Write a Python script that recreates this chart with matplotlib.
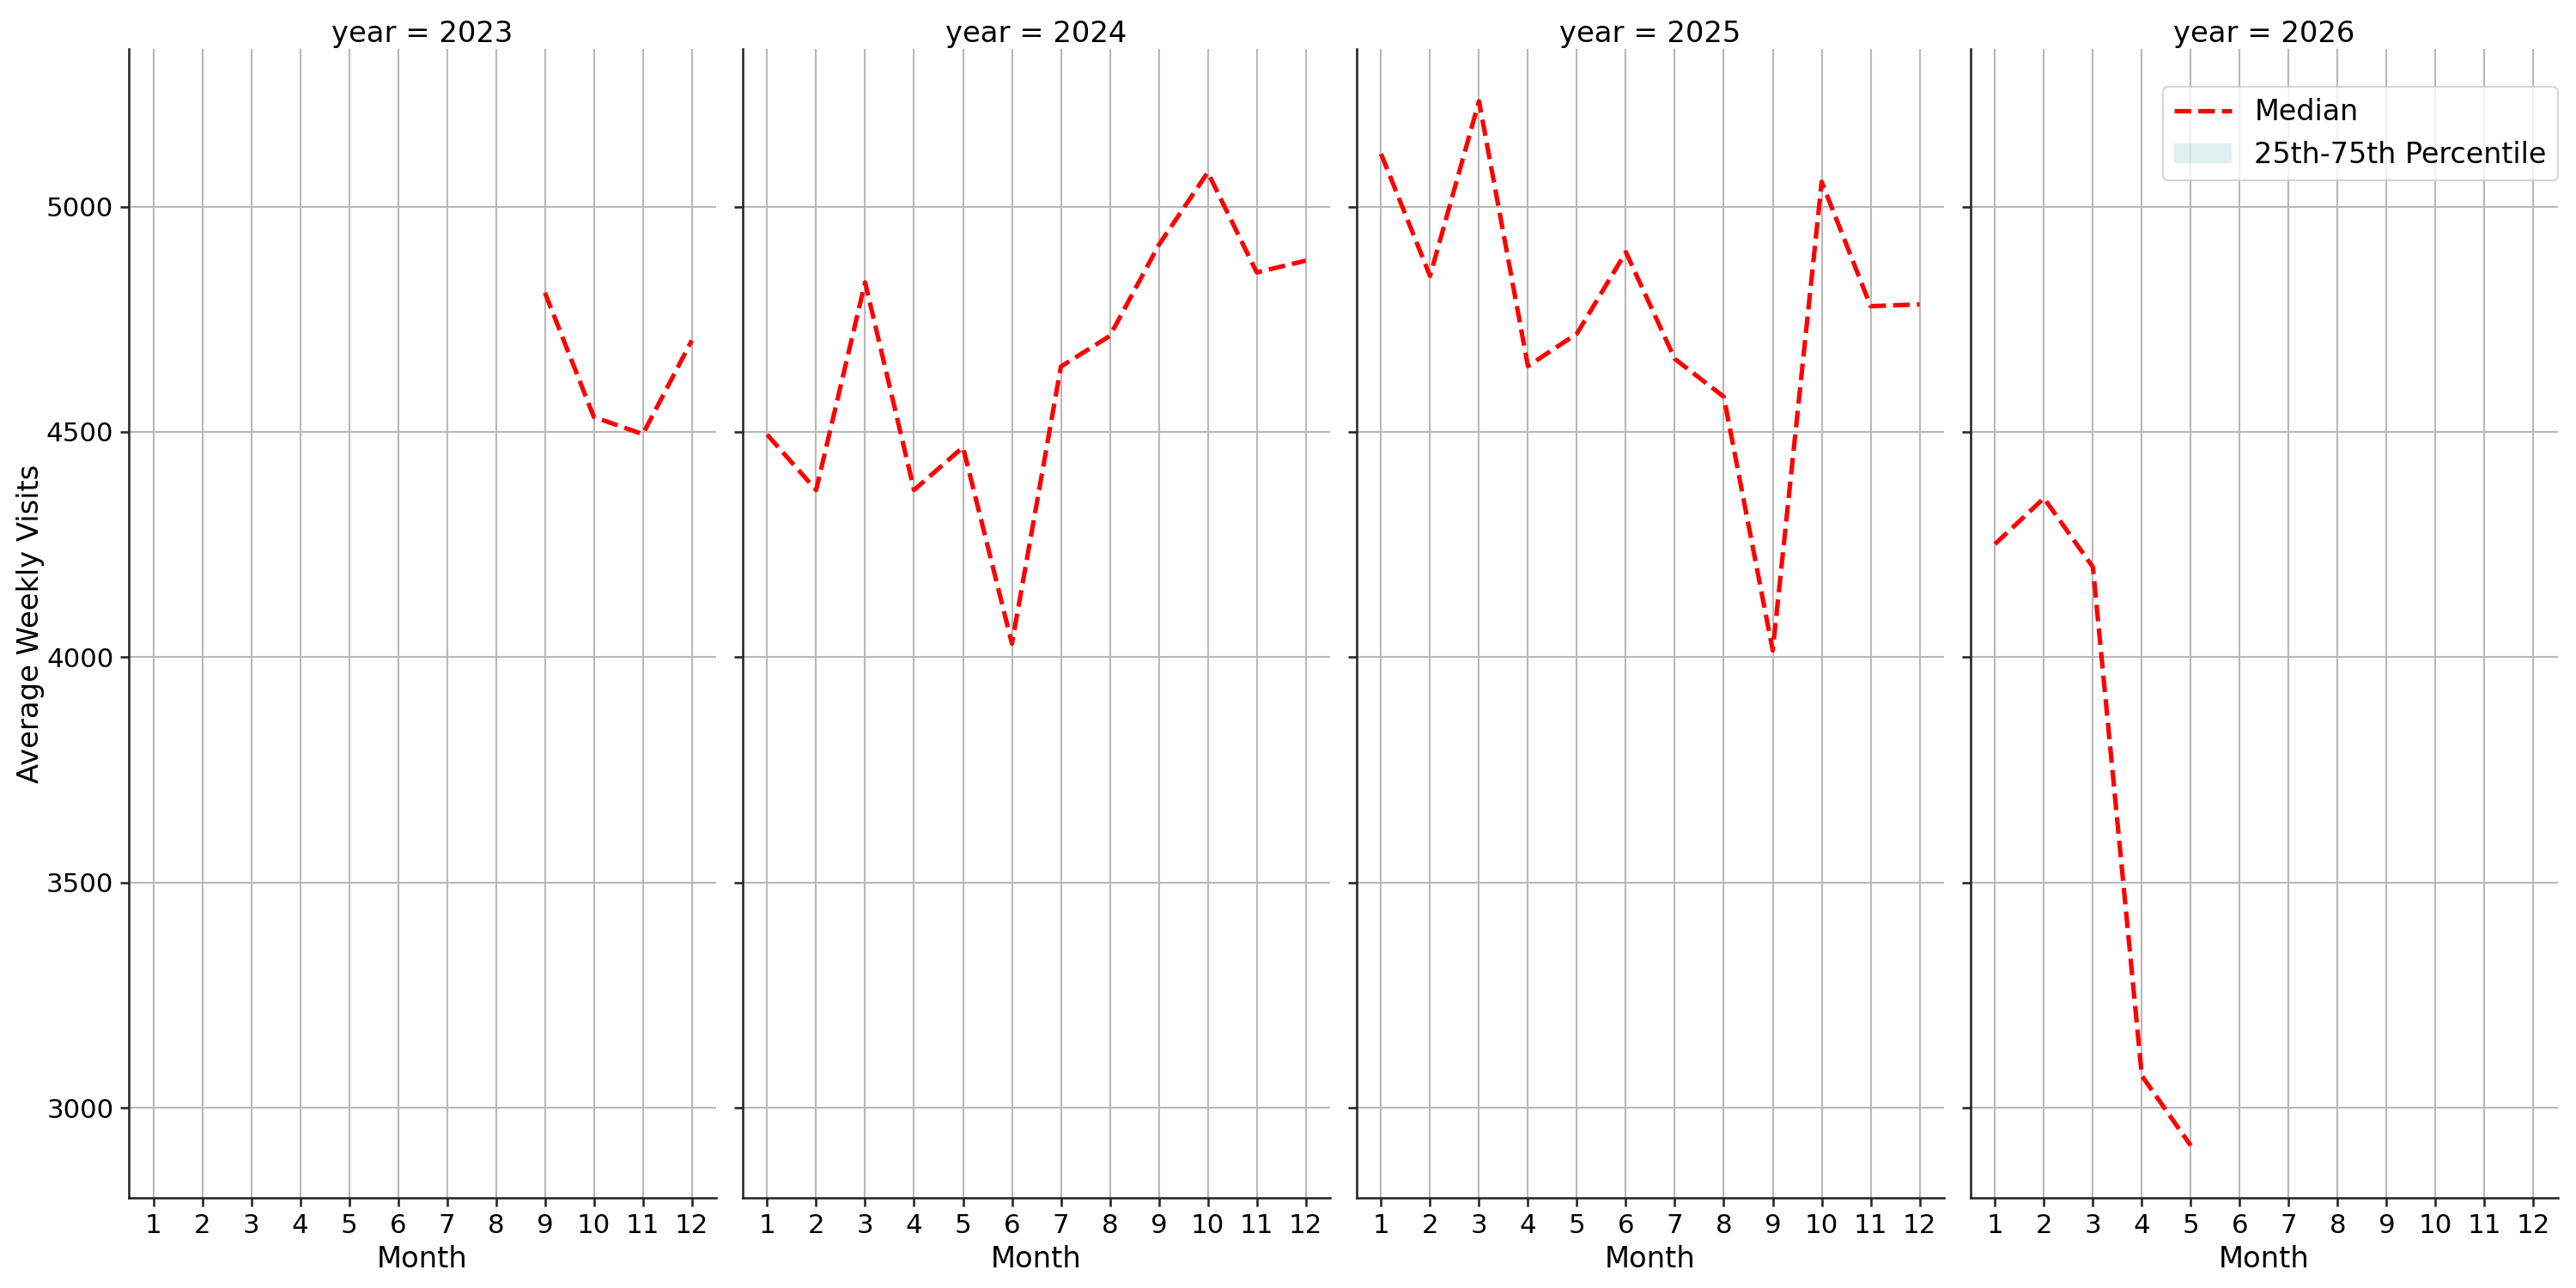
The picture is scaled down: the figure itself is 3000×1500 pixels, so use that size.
import matplotlib
matplotlib.use("Agg")
import matplotlib.pyplot as plt
from matplotlib.patches import Patch
from matplotlib.lines import Line2D

years = [2023, 2024, 2025, 2026]
months_2023 = [9, 10, 11, 12]
median_2023 = [4809, 4533, 4495, 4703]
months_2024 = [1, 2, 3, 4, 5, 6, 7, 8, 9, 10, 11, 12]
median_2024 = [4494, 4371, 4832, 4371, 4466, 4030, 4645, 4713, 4915, 5076, 4854, 4880]
months_2025 = [1, 2, 3, 4, 5, 6, 7, 8, 9, 10, 11, 12]
median_2025 = [5117, 4846, 5234, 4646, 4718, 4899, 4662, 4578, 4015, 5055, 4779, 4783]
months_2026 = [1, 2, 3, 4, 5]
median_2026 = [4251, 4353, 4200, 3071, 2916]

month_ticks = list(range(1, 13))
y_ticks = [3000, 3500, 4000, 4500, 5000]

series = {
    2023: (months_2023, median_2023),
    2024: (months_2024, median_2024),
    2025: (months_2025, median_2025),
    2026: (months_2026, median_2026),
}

plt.rcParams['font.family'] = ['DejaVu Sans']
fig, axes = plt.subplots(1, 4, figsize=(20, 10), dpi=150, sharey=True)
fig.subplots_adjust(left=0.05, right=0.993, bottom=0.07, top=0.962, wspace=0.045)

band_color = '#2a9d8f'
for ax, yr in zip(axes, years):
    m, v = series[yr]
    ax.plot(m, v, color='red', linestyle='--', linewidth=2.5, label='Median')
    ax.set_xticks(month_ticks)
    ax.set_xlim(0.5, 12.5)
    ax.set_yticks(y_ticks)
    ax.grid(True, color='#b8b8b8', linewidth=1.0)
    ax.set_axisbelow(True)
    for s in ['top', 'right']:
        ax.spines[s].set_visible(False)
    for s in ['left', 'bottom']:
        ax.spines[s].set_color('#262626')
        ax.spines[s].set_linewidth(1.25)
    ax.tick_params(axis='both', labelsize=14.8, color='#262626', width=1.25, length=5)
    ax.set_title(f'year = {yr}', fontsize=16.2, pad=4)
    ax.set_xlabel('Month', fontsize=16.2)

axes[0].set_ylabel('Average Weekly Visits', fontsize=16.2, labelpad=1)

handles = [Line2D([0], [0], color='red', linestyle='--', linewidth=2.5),
           Patch(facecolor=band_color, alpha=0.15, edgecolor='none')]
axes[3].legend(handles, ['Median', '25th-75th Percentile'], loc='upper right',
               bbox_to_anchor=(1.0, 0.967), borderaxespad=0, fontsize=16)

fig.savefig('out.png', dpi=150)
